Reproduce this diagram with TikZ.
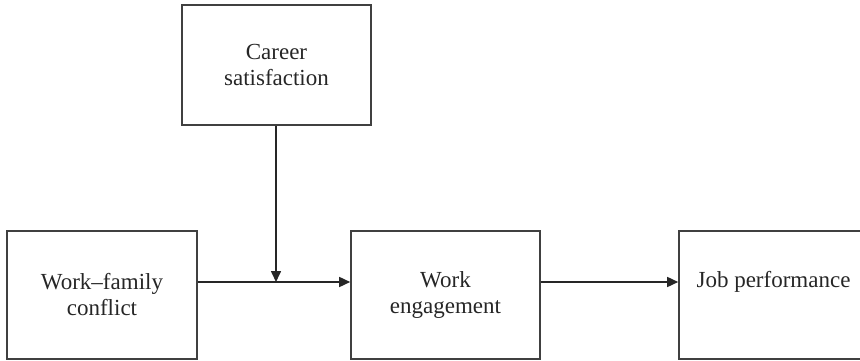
\documentclass[tikz,border=0pt]{standalone}
\usepackage{fontspec}
\setmainfont{Liberation Serif}
\usetikzlibrary{arrows.meta}
\begin{document}
\begin{tikzpicture}[x=1pt,y=-1pt,
  box/.style={draw=black!75, line width=1.6pt, rectangle, inner sep=0pt, align=center,
    font=\fontsize{23}{26}\selectfont, text=black!85},
  lbl/.style={inner sep=0pt, font=\fontsize{23}{26}\selectfont, text=black!85},
  conn/.style={draw=black!85, line width=1.6pt, -{Triangle[length=11pt,width=10pt]}}]
\useasboundingbox (0,0) rectangle (860,361);
\node[box, minimum width=189pt, minimum height=120pt] (cs) at (276.5,65) {Career\\satisfaction};
\node[box, minimum width=190pt, minimum height=128pt] (wf) at (102,295) {Work–family\\conflict};
\node[box, minimum width=189pt, minimum height=128pt] (we) at (445.5,295) {Work\\engagement};
\node[box, minimum width=190pt, minimum height=128pt] (jp) at (774,295) {};
\node[lbl] (jpt) at (773.5,282) {Job performance};
\coordinate (m) at (276,282);
\draw[conn] (wf.east |- m) -- (we.west |- m);
\draw[conn] (we.east |- m) -- (jp.west |- m);
\draw[conn] (cs.south -| m) -- (m);
\end{tikzpicture}
\end{document}
